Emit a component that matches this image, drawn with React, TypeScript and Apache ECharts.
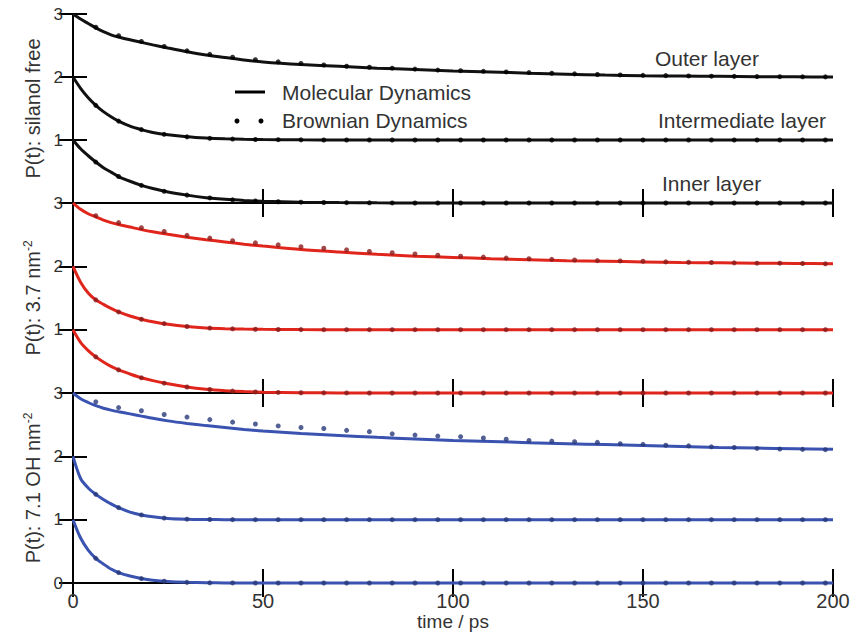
import React, { useEffect, useRef } from "react";
import * as echarts from "echarts";

// time grids (ps)
const lineT = [0, 2, 4, 6, 8, 10, 12, 15, 18, 21, 25, 30, 35, 40, 45, 50, 60, 70, 80, 90, 100, 110, 120, 130, 140, 150, 160, 170, 180, 190, 200];
const dotT = [6, 12, 18, 24, 30, 36, 42, 48, 54, 60, 66, 72, 78, 84, 90, 96, 102, 108, 114, 120, 126, 132, 138, 144, 150, 156, 162, 168, 174, 180, 186, 192, 198];

// Panel 1: silanol free (black)
const mdSilOuter = [3, 2.92, 2.85, 2.78, 2.72, 2.67, 2.635, 2.59, 2.55, 2.51, 2.46, 2.40, 2.35, 2.31, 2.27, 2.24, 2.20, 2.17, 2.14, 2.12, 2.095, 2.08, 2.06, 2.045, 2.03, 2.02, 2.015, 2.01, 2.005, 2.002, 2.0];
const mdSilMid = [2, 1.82, 1.67, 1.55, 1.45, 1.37, 1.30, 1.22, 1.165, 1.12, 1.082, 1.05, 1.03, 1.018, 1.011, 1.007, 1.002, 1, 1, 1, 1, 1, 1, 1, 1, 1, 1, 1, 1, 1, 1];
const mdSilInner = [1, 0.86, 0.75, 0.65, 0.56, 0.49, 0.42, 0.345, 0.28, 0.23, 0.175, 0.125, 0.085, 0.058, 0.04, 0.028, 0.013, 0.006, 0.002, 0, 0, 0, 0, 0, 0, 0, 0, 0, 0, 0, 0];
const bdSilOuter = [2.79, 2.655, 2.565, 2.485, 2.415, 2.36, 2.315, 2.275, 2.24, 2.215, 2.19, 2.17, 2.155, 2.14, 2.125, 2.11, 2.10, 2.09, 2.08, 2.07, 2.06, 2.05, 2.04, 2.033, 2.027, 2.022, 2.017, 2.013, 2.01, 2.007, 2.005, 2.003, 2.002];
const bdSilMid = [1.55, 1.30, 1.165, 1.09, 1.05, 1.027, 1.015, 1.008, 1.005, 1.002, 1, 1, 1, 1, 1, 1, 1, 1, 1, 1, 1, 1, 1, 1, 1, 1, 1, 1, 1, 1, 1, 1, 1];
const bdSilInner = [0.65, 0.42, 0.28, 0.185, 0.125, 0.08, 0.05, 0.032, 0.02, 0.013, 0.008, 0.005, 0.003, 0.001, 0, 0, 0, 0, 0, 0, 0, 0, 0, 0, 0, 0, 0, 0, 0, 0, 0, 0, 0];

// Panel 2: 3.7 nm^-2 (red)
const md37Outer = [3, 2.90, 2.83, 2.78, 2.73, 2.69, 2.66, 2.62, 2.58, 2.545, 2.505, 2.46, 2.42, 2.385, 2.35, 2.32, 2.265, 2.225, 2.19, 2.16, 2.14, 2.12, 2.105, 2.09, 2.08, 2.07, 2.06, 2.055, 2.05, 2.045, 2.04];
const md37Mid = [2, 1.75, 1.58, 1.47, 1.40, 1.335, 1.28, 1.215, 1.165, 1.125, 1.085, 1.05, 1.028, 1.016, 1.009, 1.005, 1.001, 1, 1, 1, 1, 1, 1, 1, 1, 1, 1, 1, 1, 1, 1];
const md37Inner = [1, 0.80, 0.67, 0.57, 0.49, 0.42, 0.365, 0.30, 0.24, 0.195, 0.145, 0.095, 0.06, 0.037, 0.022, 0.013, 0.004, 0.001, 0, 0, 0, 0, 0, 0, 0, 0, 0, 0, 0, 0, 0];
const bd37Outer = [2.80, 2.69, 2.61, 2.55, 2.49, 2.445, 2.405, 2.37, 2.34, 2.31, 2.285, 2.26, 2.235, 2.215, 2.195, 2.175, 2.16, 2.145, 2.13, 2.12, 2.11, 2.10, 2.09, 2.085, 2.08, 2.07, 2.065, 2.06, 2.055, 2.05, 2.05, 2.045, 2.04];
const bd37Mid = [1.47, 1.28, 1.165, 1.095, 1.05, 1.025, 1.013, 1.007, 1.003, 1.001, 1, 1, 1, 1, 1, 1, 1, 1, 1, 1, 1, 1, 1, 1, 1, 1, 1, 1, 1, 1, 1, 1, 1];
const bd37Inner = [0.57, 0.365, 0.24, 0.155, 0.095, 0.055, 0.03, 0.017, 0.009, 0.004, 0.002, 0.001, 0, 0, 0, 0, 0, 0, 0, 0, 0, 0, 0, 0, 0, 0, 0, 0, 0, 0, 0, 0, 0];

// Panel 3: 7.1 OH nm^-2 (blue)
const md71Outer = [3, 2.91, 2.85, 2.80, 2.76, 2.73, 2.705, 2.67, 2.635, 2.60, 2.56, 2.52, 2.485, 2.455, 2.425, 2.40, 2.36, 2.33, 2.30, 2.275, 2.25, 2.235, 2.215, 2.20, 2.185, 2.17, 2.155, 2.14, 2.13, 2.12, 2.11];
const md71Mid = [2, 1.65, 1.50, 1.40, 1.32, 1.25, 1.19, 1.12, 1.075, 1.045, 1.02, 1.008, 1.003, 1.0, 1, 1, 1, 1, 1, 1, 1, 1, 1, 1, 1, 1, 1, 1, 1, 1, 1];
const md71Inner = [1, 0.71, 0.52, 0.39, 0.30, 0.22, 0.165, 0.11, 0.07, 0.043, 0.022, 0.01, 0.004, 0.001, 0, 0, 0, 0, 0, 0, 0, 0, 0, 0, 0, 0, 0, 0, 0, 0, 0];
const bd71Outer = [2.86, 2.77, 2.72, 2.66, 2.62, 2.58, 2.54, 2.51, 2.48, 2.455, 2.44, 2.41, 2.39, 2.355, 2.335, 2.32, 2.31, 2.29, 2.27, 2.25, 2.24, 2.23, 2.22, 2.20, 2.19, 2.175, 2.165, 2.15, 2.14, 2.125, 2.115, 2.11, 2.105];
const bd71Mid = [1.40, 1.19, 1.075, 1.025, 1.008, 1.003, 1.001, 1, 1, 1, 1, 1, 1, 1, 1, 1, 1, 1, 1, 1, 1, 1, 1, 1, 1, 1, 1, 1, 1, 1, 1, 1, 1];
const bd71Inner = [0.39, 0.165, 0.07, 0.027, 0.01, 0.003, 0.001, 0, 0, 0, 0, 0, 0, 0, 0, 0, 0, 0, 0, 0, 0, 0, 0, 0, 0, 0, 0, 0, 0, 0, 0, 0, 0];

const yTicks = [0, 1, 2, 3];
const xTicks = [0, 50, 100, 150, 200];
const layerLabels = ["Outer layer", "Intermediate layer", "Inner layer"];
const legendLabels = ["Molecular Dynamics", "Brownian Dynamics"];
const xTitle = "time / ps";

const FONT = "Liberation Sans, Arial, Helvetica, sans-serif";

const panels = [
  { name: "{a|P(t): silanol free}", line: "#111111", dot: "#000000", md: [mdSilOuter, mdSilMid, mdSilInner], bd: [bdSilOuter, bdSilMid, bdSilInner] },
  { name: "{a|P(t): 3.7 nm}{s|-2}", line: "#e0261c", dot: "#8a1c1c", md: [md37Outer, md37Mid, md37Inner], bd: [bd37Outer, bd37Mid, bd37Inner] },
  { name: "{a|P(t): 7.1 OH nm}{s|-2}", line: "#3a52b0", dot: "#283878", md: [md71Outer, md71Mid, md71Inner], bd: [bd71Outer, bd71Mid, bd71Inner] },
];

const gridTops = [14, 203, 393];
const gridHeights = [189, 190, 190];

export default function App() {
  const ref = useRef<HTMLDivElement>(null);
  useEffect(() => {
    if (!ref.current) return;
    const chart = echarts.init(ref.current, undefined, { renderer: "svg" });
    const grid: any[] = [];
    const xAxis: any[] = [];
    const yAxis: any[] = [];
    const series: any[] = [];
    const axisLine = { show: true, lineStyle: { color: "#000", width: 2 } };
    const tick = { show: true, inside: true, length: 14, lineStyle: { color: "#000", width: 2 } };
    panels.forEach((p, i) => {
      grid.push({ left: 73, right: 31, top: gridTops[i], height: gridHeights[i], outerBoundsMode: "none", containLabel: false });
      const isBottom = i === 2;
      xAxis.push({
        type: "value", gridIndex: i, min: xTicks[0], max: xTicks[xTicks.length - 1], interval: 50,
        position: "bottom", axisLine, axisTick: tick, splitLine: { show: false },
        axisLabel: { show: isBottom, fontSize: 20, color: "#333", fontFamily: FONT, margin: 8 },
        name: isBottom ? xTitle : "", nameLocation: "middle", nameGap: 29,
        nameTextStyle: { fontSize: 19, color: "#333", fontFamily: FONT },
      });
      xAxis.push({
        type: "value", gridIndex: i, min: 0, max: 200, interval: 50, position: "top",
        axisLine, axisTick: tick, splitLine: { show: false }, axisLabel: { show: false },
      });
      yAxis.push({
        type: "value", gridIndex: i, min: yTicks[0], max: yTicks[yTicks.length - 1], interval: 1,
        position: "left", axisLine, axisTick: tick, splitLine: { show: false },
        axisLabel: {
          fontSize: 17, color: "#333", fontFamily: FONT, margin: 10,
          formatter: (v: number) => (v === 0 && !isBottom ? "" : String(v)),
        },
        name: p.name, nameLocation: "middle", nameRotate: 90, nameGap: 26,
        nameTextStyle: {
          rich: {
            a: { fontSize: 20, color: "#333", fontFamily: FONT, lineHeight: 22 },
            s: { fontSize: 12, color: "#333", fontFamily: FONT, verticalAlign: "top", lineHeight: 22 },
          },
        },
      });
      yAxis.push({
        type: "value", gridIndex: i, min: 0, max: 3, interval: 1, position: "right",
        axisLine, axisTick: tick, splitLine: { show: false }, axisLabel: { show: false },
      });
      p.md.forEach((arr) => {
        series.push({
          name: "Molecular Dynamics", type: "line", xAxisIndex: i * 2, yAxisIndex: i * 2,
          data: lineT.map((t, j) => [t, arr[j]]), showSymbol: false, symbol: "none",
          smooth: 0.3, clip: false, lineStyle: { color: p.line, width: 3 }, z: 3,
        });
      });
      p.bd.forEach((arr) => {
        series.push({
          name: "Brownian Dynamics", type: "scatter", xAxisIndex: i * 2, yAxisIndex: i * 2,
          data: dotT.map((t, j) => [t, arr[j]]), symbol: "circle", symbolSize: 5, clip: false,
          itemStyle: { color: p.dot }, z: 4,
        });
      });
    });
    const txt = (text: string, x: number, y: number) => ({
      type: "text", x, y,
      style: { text, fontSize: 21, fontFamily: FONT, fill: "#333", textVerticalAlign: "middle", textAlign: "left" },
    });
    chart.setOption({
      animation: false,
      backgroundColor: "#fff",
      grid, xAxis, yAxis, series,
      graphic: [
        txt(layerLabels[0], 655, 58),
        txt(layerLabels[1], 658, 120),
        txt(layerLabels[2], 662, 183),
        { type: "line", shape: { x1: 235, y1: 92, x2: 265, y2: 92 }, style: { stroke: "#000", lineWidth: 3 } },
        { type: "circle", shape: { cx: 237, cy: 121, r: 2.5 }, style: { fill: "#000" } },
        { type: "circle", shape: { cx: 261, cy: 121, r: 2.5 }, style: { fill: "#000" } },
        txt(legendLabels[0], 282, 92),
        txt(legendLabels[1], 282, 120),
      ],
    });
    return () => chart.dispose();
  }, []);
  return <div ref={ref} style={{ position: "fixed", left: 0, top: 0, width: 864, height: 632 }} />;
}
